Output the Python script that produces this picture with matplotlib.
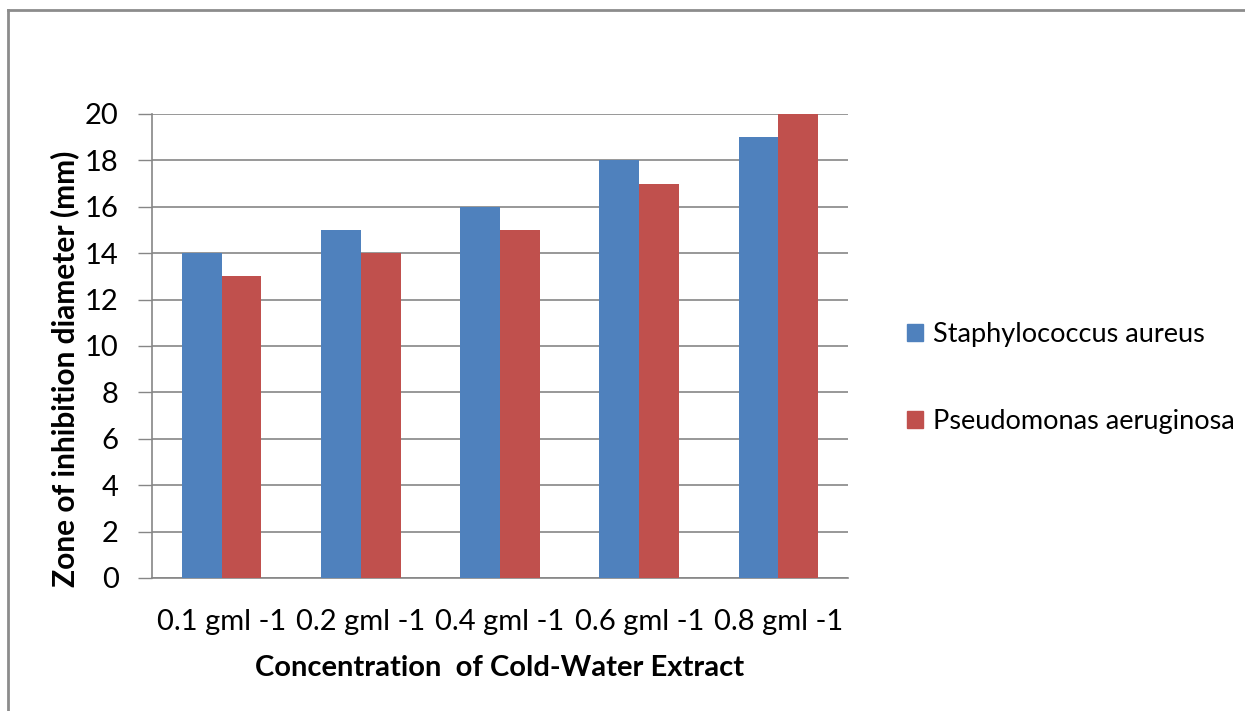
import numpy as np
import matplotlib
matplotlib.use("Agg")
import matplotlib.pyplot as plt
from matplotlib.patches import Patch
from matplotlib.lines import Line2D

# datos
concentrations = ['0.1 gml -1', '0.2 gml -1', '0.4 gml -1', '0.6 gml -1', '0.8 gml -1']
staph = [14, 15, 16, 18, 19]
pseudo = [13, 14, 15, 17, 20]
series_names = ['Staphylococcus aureus', 'Pseudomonas aeruginosa']
yticks = [0, 2, 4, 6, 8, 10, 12, 14, 16, 18, 20]

blue = '#4F81BD'
red = '#C0504D'
grid_col = '#868686'

plt.rcParams['font.family'] = ['Lato', 'DejaVu Sans']
fs = 21

fig = plt.figure(figsize=(12.45, 7.11), dpi=100)
ax = fig.add_axes([152/1245, 1 - 578/711, (848-152)/1245, (578-114)/711])

x = np.arange(len(concentrations))
w = 1 / 3.5
ax.bar(x - w/2, staph, w, color=blue, zorder=3)
ax.bar(x + w/2, pseudo, w, color=red, zorder=3)

ax.set_xlim(-0.5, len(concentrations) - 0.5)
ax.set_ylim(0, 20)
ax.set_yticks(yticks)
ax.set_xticks(x, concentrations)
ax.tick_params(axis='y', length=10, width=1, color=grid_col, labelsize=fs, pad=14)
ax.tick_params(axis='x', length=0, labelsize=fs, pad=22)
ax.yaxis.grid(True, color=grid_col, linewidth=1.2, zorder=0)
ax.set_axisbelow(True)

for s in ['top', 'right']:
    ax.spines[s].set_visible(False)
ax.spines['left'].set_color(grid_col)
ax.spines['bottom'].set_color(grid_col)
ax.spines['left'].set_linewidth(1.2)
ax.spines['bottom'].set_linewidth(1.2)

ax.set_ylabel('Zone of inhibition diameter (mm)', fontsize=21.5, fontweight='bold')
ax.yaxis.set_label_coords((79 - 152) / 696, (578 - 369) / 464)
ax.set_xlabel('Concentration  of Cold-Water Extract', fontsize=21, fontweight='bold', labelpad=15)

handles = [Patch(color=blue), Patch(color=red)]
fig.legend(handles, series_names, loc='center left',
           bbox_to_anchor=(907/1245, 1 - 378/711), frameon=False, fontsize=19.5,
           borderaxespad=0, borderpad=0,
           handlelength=0.6, handleheight=0.6, handletextpad=0.35, labelspacing=2.3)

# borde del area del grafico (solo arriba e izquierda visibles)
fig.add_artist(Line2D([8/1245, 8/1245], [0, 1 - 10/711], color='#8c8c8c', linewidth=2,
                      transform=fig.transFigure))
fig.add_artist(Line2D([8/1245, 1], [1 - 10/711, 1 - 10/711], color='#8c8c8c', linewidth=2,
                      transform=fig.transFigure))

fig.savefig('out.png', dpi=100)
